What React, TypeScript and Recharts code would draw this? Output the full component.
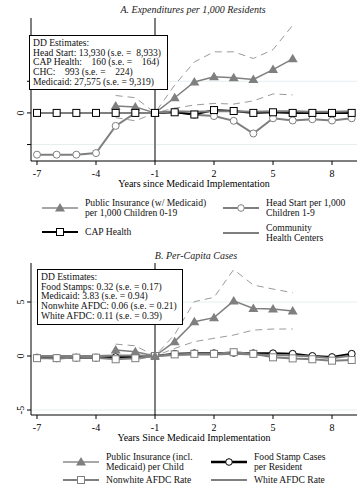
import { LineChart, Line, XAxis, YAxis, CartesianGrid, ReferenceLine } from 'recharts';

const FONT = '"Liberation Serif", "DejaVu Serif", serif';
const GRAY = '#7f7f7f';
const CI_GRAY = '#9a9a9a';

const years = [-7, -6, -5, -4, -3, -2, -1, 0, 1, 2, 3, 4, 5, 6, 7, 8, 9];
const xTicks = [-7, -4, -1, 2, 5, 8];

// Panel A: expenditures per 1,000 residents (scaled units)
const publicInsA = [null, null, null, null, 0.22, 0.19, 0, 0.48, 0.98, 1.14, 1.11, 1.06, 1.37, 1.71, null, null, null];
const publicInsAHi = [null, null, null, null, 0.55, 0.48, 0, 0.88, 1.61, 1.93, 1.93, 1.72, 2.0, 2.77, null, null, null];
const publicInsALo = [null, null, null, null, -0.15, -0.25, 0, 0.15, 0.25, 0.3, 0.28, 0.38, 0.6, 0.57, null, null, null];
const headStart = [-1.32, -1.32, -1.32, -1.27, -0.41, 0, 0, 0.04, -0.06, -0.1, -0.25, -0.65, -0.17, -0.24, -0.2, -0.24, -0.17];
const capHealth = [0, 0, 0, 0, 0, 0, 0, 0.02, -0.05, 0.09, 0.06, 0, 0.02, 0, 0, 0, 0];
const chc = [0, 0, 0, 0, 0, 0, 0, 0.05, 0.04, 0.05, 0.05, 0.04, 0.05, 0.05, 0.04, 0.04, 0.05];

// Panel B: per-capita cases
const publicInsB = [null, null, null, null, 0.55, 0.4, 0, 1.33, 3.18, 3.55, 5.1, 4.4, 4.35, 4.17, null, null, null];
const publicInsBHi = [null, null, null, null, 1.1, 0.95, 0, 2.0, 5.03, 5.43, 8.0, 6.57, 6.2, 5.86, null, null, null];
const publicInsBLo = [null, null, null, null, 0.0, -0.35, 0, 0.7, 1.33, 1.64, 1.94, 2.4, 2.5, 2.5, null, null, null];
const foodStamps = [-0.15, -0.2, -0.15, -0.15, -0.1, -0.1, 0, 0.2, 0.25, 0.25, 0.3, 0.25, 0.25, 0.2, 0, -0.1, 0.2];
const nonwhiteAfdc = [-0.2, -0.2, -0.15, -0.15, -0.3, -0.2, 0, 0.15, 0.2, 0.2, 0.35, 0.2, -0.12, -0.22, -0.3, -0.43, -0.37];
const whiteAfdc = [0, 0, 0, 0, 0.05, 0.05, 0, 0.1, 0.15, 0.15, 0.2, 0.15, 0.1, 0.05, -0.05, -0.2, 0.05];

const estimatesA = [
    'DD Estimates:',
    'Head Start: 13,930 (s.e. =  8,933)',
    'CAP Health:    160 (s.e. =    164)',
    'CHC:    993 (s.e. =    224)',
    'Medicaid: 27,575 (s.e. = 9,319)',
];
const estimatesB = [
    'DD Estimates:',
    'Food Stamps: 0.32 (s.e. = 0.17)',
    'Medicaid: 3.83 (s.e. = 0.94)',
    'Nonwhite AFDC: 0.06 (s.e. = 0.21)',
    'White AFDC: 0.11 (s.e. = 0.39)',
];

const dataA = years.map((year, i) => ({
    year,
    pub: publicInsA[i],
    pubHi: publicInsAHi[i],
    pubLo: publicInsALo[i],
    hs: headStart[i],
    cap: capHealth[i],
    chc: chc[i],
}));

const dataB = years.map((year, i) => ({
    year,
    pub: publicInsB[i],
    pubHi: publicInsBHi[i],
    pubLo: publicInsBLo[i],
    fs: foodStamps[i],
    nw: nonwhiteAfdc[i],
    wh: whiteAfdc[i],
}));

const triangleDot = (p: any) => {
    if (p.cy == null || p.value == null) return <g key={p.key ?? p.index} />;
    const { cx, cy } = p;
    return <path key={p.key ?? p.index} d={`M${cx},${cy - 5} L${cx + 5},${cy + 3.5} L${cx - 5},${cy + 3.5} Z`} fill={GRAY} />;
};

const circleDot = (stroke: string) => (p: any) => {
    if (p.cy == null || p.value == null) return <g key={p.key ?? p.index} />;
    return <circle key={p.key ?? p.index} cx={p.cx} cy={p.cy} r={3.5} fill="#fff" stroke={stroke} strokeWidth={1} />;
};

const squareDot = (stroke: string) => (p: any) => {
    if (p.cy == null || p.value == null) return <g key={p.key ?? p.index} />;
    return <rect key={p.key ?? p.index} x={p.cx - 3.5} y={p.cy - 3.5} width={7} height={7} fill="#fff" stroke={stroke} strokeWidth={1} />;
};

function RotatedTick(props: any) {
    const { y, payload, labels } = props;
    const text = labels[payload.value] ?? '';
    return (
        <text x={24} y={y} transform={`rotate(-90, 24, ${y})`} textAnchor="middle" fontSize={10} fontFamily={FONT} fill="#000">
            {text}
        </text>
    );
}

function EstimatesBox({ lines, left, top, width, height }: { lines: string[]; left: number; top: number; width: number; height: number }) {
    return (
        <div style={{
            position: 'absolute', left, top, width, height, boxSizing: 'border-box',
            border: '1px solid #000', background: '#fff', padding: '2px 3px',
            fontFamily: FONT, fontSize: 9.6, lineHeight: '9.7px', whiteSpace: 'pre', color: '#111',
        }}>
            {lines.map((l) => <div key={l}>{l}</div>)}
        </div>
    );
}

function Symbol({ kind, color, width = 2 }: { kind: string; color: string; width?: number }) {
    return (
        <svg width={36} height={10} style={{ display: 'block' }}>
            <line x1={0} y1={5} x2={36} y2={5} stroke={color} strokeWidth={width} />
            {kind === 'triangle' && <path d="M18,0 L23,8.5 L13,8.5 Z" fill={GRAY} />}
            {kind === 'circle' && <circle cx={18} cy={5} r={3.3} fill="#fff" stroke={color} strokeWidth={1} />}
            {kind === 'square' && <rect x={14.5} y={1.5} width={7} height={7} fill="#fff" stroke={color} strokeWidth={1} />}
        </svg>
    );
}

function LegendItem({ left, top, kind, color, lineWidth, lines }: { left: number; top: number; kind: string; color: string; lineWidth?: number; lines: string[] }) {
    return (
        <div style={{ position: 'absolute', left, top, display: 'flex', alignItems: 'center' }}>
            <Symbol kind={kind} color={color} width={lineWidth} />
            <div style={{ marginLeft: 7, fontFamily: FONT, fontSize: 9.6, lineHeight: '9.5px', color: '#111', whiteSpace: 'nowrap' }}>
                {lines.map((l) => <div key={l}>{l}</div>)}
            </div>
        </div>
    );
}

const titleStyle = (top: number, center: number): any => ({
    position: 'absolute', top, left: center, transform: 'translateX(-50%)',
    fontFamily: FONT, fontStyle: 'italic', fontSize: 10, color: '#222', whiteSpace: 'nowrap',
});

const axisProps = {
    stroke: '#000',
    tick: { fill: '#000', fontSize: 10, fontFamily: FONT },
};

export default function App() {
    return (
        <div style={{ position: 'absolute', left: 0, top: 0, width: 357, height: 485, background: '#fff', overflow: 'hidden' }}>
            <div style={titleStyle(4, 193)}>A. Expenditures per 1,000 Residents</div>
            <div style={{ position: 'absolute', left: 0, top: 0 }}>
                <LineChart width={357} height={190} data={dataA} margin={{ top: 18, right: 0, left: 0, bottom: 0 }}>
                    <CartesianGrid vertical={false} horizontalValues={[-1, 1]} stroke="#e6eef0" />
                    <XAxis
                        dataKey="year" type="number" domain={[-7.305, 9.27]} ticks={xTicks} allowDataOverflow
                        height={29} tickSize={4} tickMargin={5} {...axisProps}
                        label={{ value: 'Years since Medicaid Implementation', position: 'insideBottom', offset: 3, fill: '#000', fontSize: 10, fontFamily: FONT }}
                    />
                    <YAxis
                        type="number" domain={[-1.52, 3.0]} ticks={[-1, 0, 1]} allowDataOverflow width={31}
                        tickSize={4} stroke="#000" tick={<RotatedTick labels={{ 0: '0' }} />}
                    />
                    <ReferenceLine x={-1} stroke={GRAY} strokeWidth={2} />
                    <Line dataKey="pubHi" stroke={CI_GRAY} strokeDasharray="7 5" strokeWidth={1} dot={false} isAnimationActive={false} />
                    <Line dataKey="pubLo" stroke={CI_GRAY} strokeDasharray="7 5" strokeWidth={1} dot={false} isAnimationActive={false} />
                    <Line dataKey="hs" stroke={GRAY} strokeWidth={2} dot={circleDot(GRAY)} isAnimationActive={false} />
                    <Line dataKey="pub" stroke={GRAY} strokeWidth={1.5} dot={triangleDot} isAnimationActive={false} />
                    <Line dataKey="cap" stroke="#000" strokeWidth={2} dot={squareDot('#000')} isAnimationActive={false} />
                    <Line dataKey="chc" stroke={GRAY} strokeWidth={2} dot={false} isAnimationActive={false} />
                </LineChart>
            </div>
            <EstimatesBox lines={estimatesA} left={29} top={35} width={139} height={55} />

            <LegendItem left={42} top={198} kind="triangle" color="#8a8a8a" lineWidth={1.5} lines={['Public Insurance (w/ Medicaid)', 'per 1,000 Children 0-19']} />
            <LegendItem left={223} top={198} kind="circle" color={GRAY} lineWidth={2} lines={['Head Start per 1,000', 'Children 1-9']} />
            <LegendItem left={42} top={227} kind="square" color="#000" lineWidth={2} lines={['CAP Health']} />
            <LegendItem left={223} top={223} kind="line" color={GRAY} lineWidth={2} lines={['Community', 'Health Centers']} />

            <div style={titleStyle(250, 196)}>B. Per-Capita Cases</div>
            <div style={{ position: 'absolute', left: 0, top: 250 }}>
                <LineChart width={357} height={192} data={dataB} margin={{ top: 13, right: 0, left: 0, bottom: 0 }}>
                    <CartesianGrid vertical={false} horizontalValues={[-5, 5]} stroke="#e6eef0" />
                    <XAxis
                        dataKey="year" type="number" domain={[-7.305, 9.27]} ticks={xTicks} allowDataOverflow
                        height={27} tickSize={4} tickMargin={5} {...axisProps}
                        label={{ value: 'Years Since Medicaid Implementation', position: 'insideBottom', offset: 1, fill: '#000', fontSize: 10, fontFamily: FONT }}
                    />
                    <YAxis
                        type="number" domain={[-5.46, 8.61]} ticks={[-5, 0, 5]} allowDataOverflow width={31}
                        tickSize={4} stroke="#000" tick={<RotatedTick labels={{ '-5': '-5', 0: '0', 5: '5' }} />}
                    />
                    <ReferenceLine x={-1} stroke="#000" strokeWidth={1} />
                    <Line dataKey="pubHi" stroke={CI_GRAY} strokeDasharray="7 5" strokeWidth={1} dot={false} isAnimationActive={false} />
                    <Line dataKey="pubLo" stroke={CI_GRAY} strokeDasharray="7 5" strokeWidth={1} dot={false} isAnimationActive={false} />
                    <Line dataKey="fs" stroke="#000" strokeWidth={2} dot={circleDot('#000')} isAnimationActive={false} />
                    <Line dataKey="nw" stroke={GRAY} strokeWidth={2} dot={squareDot(GRAY)} isAnimationActive={false} />
                    <Line dataKey="wh" stroke={GRAY} strokeWidth={2} dot={false} isAnimationActive={false} />
                    <Line dataKey="pub" stroke={GRAY} strokeWidth={1.5} dot={triangleDot} isAnimationActive={false} />
                </LineChart>
            </div>
            <EstimatesBox lines={estimatesB} left={37} top={269} width={146} height={56} />

            <LegendItem left={63} top={452} kind="triangle" color="#8a8a8a" lineWidth={1.5} lines={['Public Insurance (incl.', 'Medicaid) per Child']} />
            <LegendItem left={211} top={452} kind="circle" color="#000" lineWidth={2.5} lines={['Food Stamp Cases', 'per Resident']} />
            <LegendItem left={63} top={475} kind="square" color={GRAY} lineWidth={2} lines={['Nonwhite AFDC Rate']} />
            <LegendItem left={211} top={475} kind="line" color={GRAY} lineWidth={2} lines={['White AFDC Rate']} />
        </div>
    );
}
